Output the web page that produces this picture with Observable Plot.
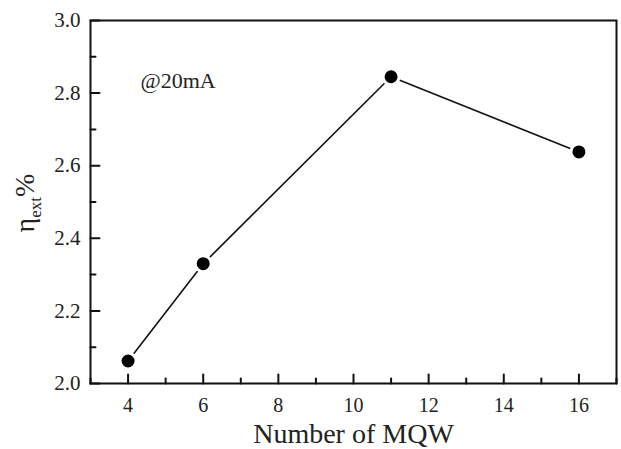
<!DOCTYPE html>
<html>
<head>
<meta charset="utf-8">
<script src="https://cdn.jsdelivr.net/npm/d3@7"></script>
<script src="https://cdn.jsdelivr.net/npm/@observablehq/plot@0.6"></script>
<style>
  html, body { margin: 0; padding: 0; background: #fff; }
  svg, svg text { font-family: "Liberation Serif", "Times New Roman", serif; }
</style>
</head>
<body>
<div id="chart"></div>
<script>
// Data
const mqw = [4, 6, 11, 16];
const eta = [2.062, 2.330, 2.845, 2.638];
const xMajorTicks = [4, 6, 8, 10, 12, 14, 16];
const xMinorTicks = [3, 5, 7, 9, 11, 13, 15, 17];
const yMajorTicks = [2.0, 2.2, 2.4, 2.6, 2.8, 3.0];
const yMinorTicks = [2.1, 2.3, 2.5, 2.7, 2.9];
const annotation = "@20mA";
const xLabel = "Number of MQW";

const data = mqw.map((x, i) => ({x, y: eta[i]}));
const lineShape = {draw(ctx, l) { ctx.moveTo(0, 0); ctx.lineTo(0, -l); }};
const font = "Liberation Serif";

const plot = Plot.plot({
  width: 621,
  height: 449,
  marginLeft: 90,
  marginRight: 5,
  marginTop: 20,
  marginBottom: 66,
  style: {fontFamily: font, color: "#111", background: "#fff"},
  x: {domain: [3, 17]},
  y: {domain: [2, 3]},
  marks: [
    Plot.axisX(xMajorTicks, {tickSize: 0, tickPadding: 14, fontSize: 20, fontFamily: font, label: null, tickFormat: d => String(d), fill: "#222"}),
    Plot.axisY(yMajorTicks, {tickSize: 0, tickPadding: 10, fontSize: 21, fontFamily: font, label: null, tickFormat: d => d.toFixed(1), fill: "#222"}),
    Plot.vector(xMajorTicks, {x: d => d, frameAnchor: "bottom", length: 9, anchor: "start", shape: lineShape, stroke: "#111", strokeWidth: 2}),
    Plot.vector(xMinorTicks, {x: d => d, frameAnchor: "bottom", length: 5, anchor: "start", shape: lineShape, stroke: "#111", strokeWidth: 2}),
    Plot.vector(yMajorTicks, {y: d => d, frameAnchor: "left", rotate: 90, length: 9, anchor: "start", shape: lineShape, stroke: "#111", strokeWidth: 2}),
    Plot.vector(yMinorTicks, {y: d => d, frameAnchor: "left", rotate: 90, length: 5, anchor: "start", shape: lineShape, stroke: "#111", strokeWidth: 2}),
    Plot.frame({stroke: "#111", strokeWidth: 2}),
    Plot.line(data, {x: "x", y: "y", stroke: "#111", strokeWidth: 1.6}),
    Plot.dot(data, {x: "x", y: "y", r: 8, fill: "#000", stroke: "#fff", strokeWidth: 3}),
    Plot.text([annotation], {frameAnchor: "top-left", dx: 50, dy: 67, lineAnchor: "bottom", textAnchor: "start", fontSize: 22, fontFamily: font, fill: "#222"}),
    Plot.text([xLabel], {frameAnchor: "bottom", dy: 59, lineAnchor: "bottom", fontSize: 28, fontFamily: font, fill: "#222"})
  ]
});

document.getElementById("chart").appendChild(plot);

// Y axis label with subscript: η_ext %
const svg = d3.select(plot);
const yl = svg.append("text")
  .attr("transform", "translate(34,203) rotate(-90)")
  .attr("text-anchor", "middle")
  .attr("font-family", font)
  .attr("font-size", 28)
  .attr("fill", "#222");
yl.append("tspan").text("η");
yl.append("tspan").attr("dy", 7).attr("font-size", 17).text("ext");
yl.append("tspan").attr("dy", -7).text("%");
</script>
</body>
</html>
